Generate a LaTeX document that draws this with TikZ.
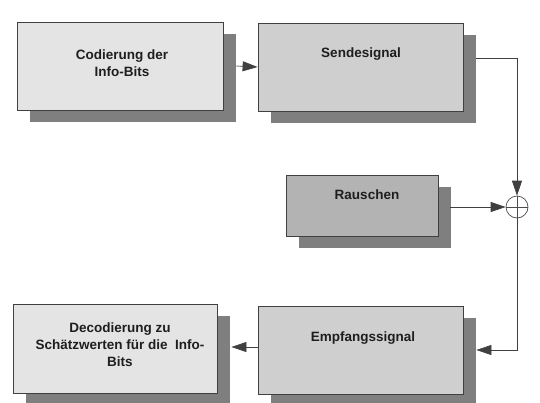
\documentclass[tikz,border=0pt]{standalone}
\usepackage{fontspec}
\setmainfont{Liberation Sans}
\usetikzlibrary{arrows.meta,shadows}

\definecolor{boxlight}{HTML}{E4E4E4}
\definecolor{boxmid}{HTML}{CFCFCF}
\definecolor{boxdark}{HTML}{B3B3B3}
\definecolor{shadowgray}{HTML}{7F7F7F}
\definecolor{framegray}{HTML}{404040}
\definecolor{textgray}{HTML}{1E1E1E}

\begin{document}
\begin{tikzpicture}[x=1pt,y=-1pt,>={Triangle[length=15pt,width=10pt]},
  block/.style={draw=framegray,line width=0.8pt,rectangle,inner sep=0pt,
    drop shadow={shadow xshift=13pt,shadow yshift=-12pt,fill=shadowgray,opacity=1}},
  lbl/.style={text=textgray,align=center,inner sep=0pt,
    font=\bfseries\fontsize{13.5}{17}\selectfont},
  wire/.style={draw=black!75,line width=0.7pt}]
  \useasboundingbox (0,0) rectangle (540,402);

  % boxes
  \node[block,fill=boxlight,minimum width=206pt,minimum height=88pt] (cod) at (120,66) {};
  \node[block,fill=boxmid,minimum width=205pt,minimum height=88pt] (send) at (360.5,67) {};
  \node[block,fill=boxdark,minimum width=152pt,minimum height=61pt] (noise) at (362,205.5) {};
  \node[block,fill=boxmid,minimum width=205pt,minimum height=88pt] (recv) at (360.5,350) {};
  \node[block,fill=boxlight,minimum width=204pt,minimum height=89pt] (dec) at (115,348.5) {};

  % texts
  \node[lbl] (codtxt) at (122,63) {Codierung der\\Info-Bits};
  \node[lbl] (sendtxt) at (361,54) {Sendesignal};
  \node[lbl] (noisetxt) at (367,195) {Rauschen};
  \node[lbl] (recvtxt) at (363,338) {Empfangssignal};
  \node[lbl] (dectxt) at (120,345) {Decodierung zu\\Schätzwerten für die\ \ Info-\\Bits};

  % adder
  \node[circle,draw=black!70,line width=0.7pt,minimum size=22pt,inner sep=0pt] (sum) at (517,207) {};
  \draw[black!70,line width=0.7pt] (sum.north) -- (sum.south) (sum.west) -- (sum.east);

  % connectors
  \draw[wire,->] ([xshift=13pt]cod.east) -- (send.west);
  \draw[wire,->] ([xshift=13pt,yshift=9pt]send.east) -| (sum.north);
  \draw[wire,->] ([xshift=12pt,yshift=-1.5pt]noise.east) -- (sum.west);
  \draw[wire,->] (sum.south) |- ([xshift=13pt]recv.east);
  \draw[wire,->] ([yshift=3pt]recv.west) -- ([xshift=14pt,yshift=1.5pt]dec.east);
\end{tikzpicture}
\end{document}
